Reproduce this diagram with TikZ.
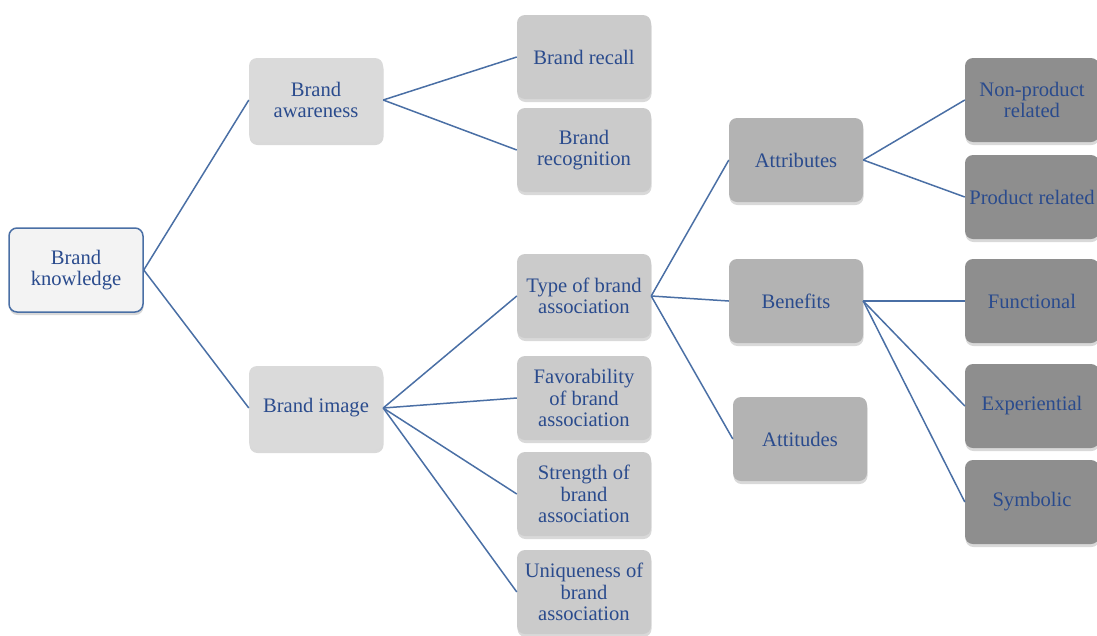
\documentclass[tikz,border=0pt]{standalone}
\usepackage{fontspec}
\setmainfont{Liberation Serif}
\usetikzlibrary{shadows}
\definecolor{txtblue}{HTML}{2A4B8D}
\definecolor{linkblue}{HTML}{4A6FA5}
\definecolor{rootgray}{HTML}{F3F3F3}
\definecolor{lvlone}{HTML}{DADADA}
\definecolor{lvltwo}{HTML}{CBCBCB}
\definecolor{lvlthree}{HTML}{B3B3B3}
\definecolor{lvlfour}{HTML}{8E8E8E}

\begin{document}
\begin{tikzpicture}[x=1pt, y=-1pt,
		box/.style={rounded corners=8pt, minimum width=134pt, minimum height=84pt, inner sep=2pt, align=center, text=txtblue, font=\fontsize{20.6}{21.6}\selectfont, drop shadow={shadow xshift=0.5pt, shadow yshift=-3pt, opacity=0.3}},
		link/.style={draw=linkblue, line width=1.5pt}]

		\useasboundingbox (0,0) rectangle (1097,635);

		\node[box, fill=rootgray, draw=linkblue, line width=1.5pt] (know) at (76,270) {Brand\\knowledge};

		\node[box, fill=lvlone] (aware) at (316,100) {Brand\\awareness};
		\node[box, fill=lvlone] (image) at (316,408) {Brand image};

		\node[box, fill=lvltwo] (recall) at (584,57) {Brand recall};
		\node[box, fill=lvltwo] (recog) at (584,150) {Brand\\recognition};
		\node[box, fill=lvltwo] (type) at (584,296) {Type of brand\\association};
		\node[box, fill=lvltwo] (favor) at (584,398) {Favorability\\of brand\\association};
		\node[box, fill=lvltwo] (strength) at (584,494) {Strength of\\brand\\association};
		\node[box, fill=lvltwo] (unique) at (584,592) {Uniqueness of\\brand\\association};

		\node[box, fill=lvlthree] (attrib) at (796,160) {Attributes};
		\node[box, fill=lvlthree] (benefit) at (796,301) {Benefits};
		\node[box, fill=lvlthree] (attitude) at (800,439) {Attitudes};

		\node[box, fill=lvlfour] (nonprod) at (1032,100) {Non-product\\related};
		\node[box, fill=lvlfour] (prod) at (1032,197) {Product related};
		\node[box, fill=lvlfour] (func) at (1032,301) {Functional};
		\node[box, fill=lvlfour] (exper) at (1032,406) {Experiential};
		\node[box, fill=lvlfour] (symb) at (1032,502) {Symbolic};

		\draw[link] (know.east) -- (aware.west);
		\draw[link] (know.east) -- (image.west);

		\draw[link] (aware.east) -- (recall.west);
		\draw[link] (aware.east) -- (recog.west);

		\draw[link] (image.east) -- (type.west);
		\draw[link] (image.east) -- (favor.west);
		\draw[link] (image.east) -- (strength.west);
		\draw[link] (image.east) -- (unique.west);

		\draw[link] (type.east) -- (attrib.west);
		\draw[link] (type.east) -- (benefit.west);
		\draw[link] (type.east) -- (attitude.west);

		\draw[link] (attrib.east) -- (nonprod.west);
		\draw[link] (attrib.east) -- (prod.west);

		\draw[link] (benefit.east) -- (func.west);
		\draw[link] (benefit.east) -- (exper.west);
		\draw[link] (benefit.east) -- (symb.west);

	\end{tikzpicture}
\end{document}
